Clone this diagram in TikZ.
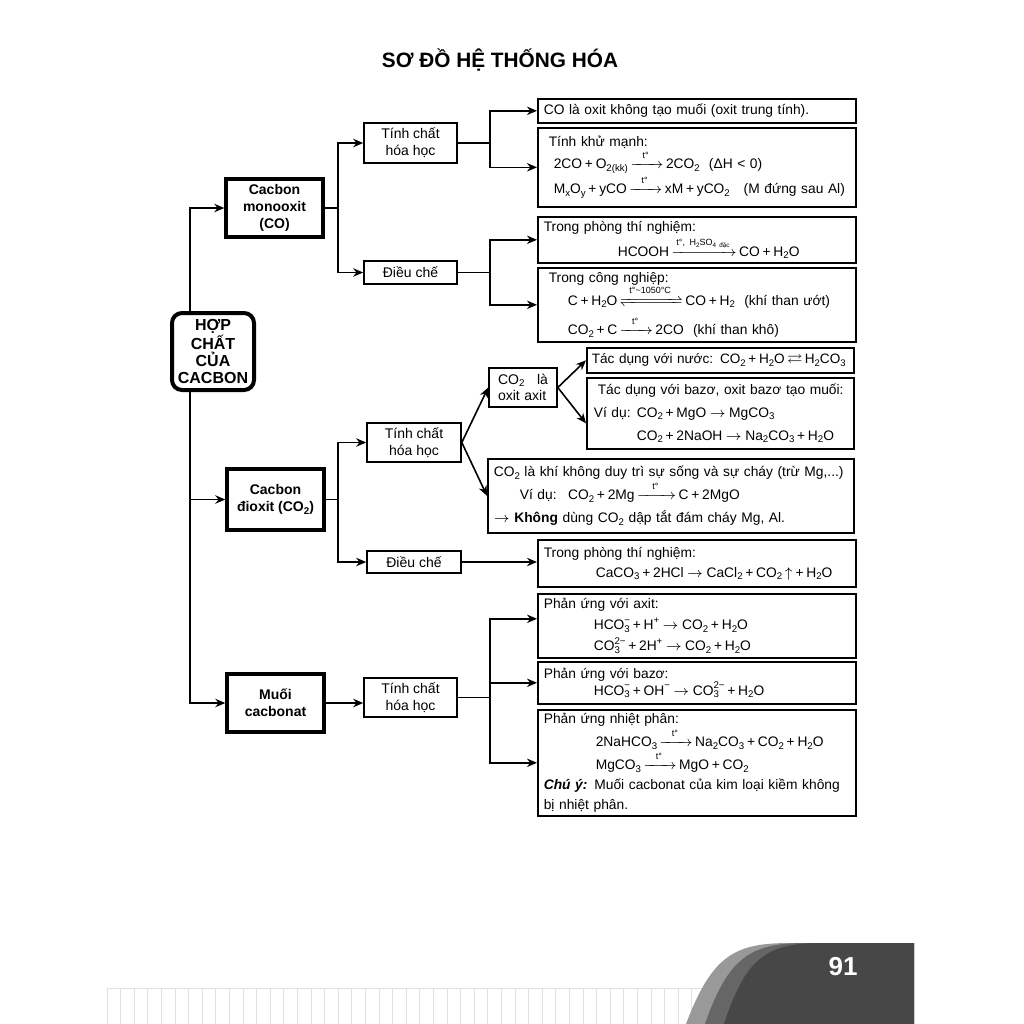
\documentclass[tikz,border=0pt]{standalone}
\usepackage{amsmath}
\usepackage{amssymb}
\usepackage{mathtools}
\usepackage{graphicx}
\usepackage{fontspec}
\setmainfont{Liberation Sans}
\usetikzlibrary{arrows.meta}

\newcommand{\sbs}[1]{\raisebox{-0.35ex}{\scalebox{0.7}{#1}}}
\newcommand{\sps}[1]{\raisebox{0.85ex}{\scalebox{0.7}{#1}}}
\newcommand{\ionst}[2]{\ooalign{\sps{#2}\cr\sbs{#1}\cr}}
\newcommand{\pls}{\hspace{0.2em}+\hspace{0.2em}}
\newcommand{\goesto}{\hspace{0.25em}\ensuremath{\rightarrow}\hspace{0.25em}}
\newcommand{\yieldto}[2][11pt]{\,\ensuremath{\xrightarrow{\makebox[#1]{\raisebox{1pt}{\fontsize{4.5}{5}\selectfont #2}}}}\,}
\newcommand{\eqlm}[2][26pt]{\,\ensuremath{\xrightleftharpoons{\makebox[#1]{\raisebox{1pt}{\fontsize{4.5}{5}\selectfont #2}}}}\,}

\tikzset{
  rootbox/.style={draw, line width=2pt, rounded corners=5pt, align=center, inner sep=0pt,
    font=\bfseries\fontsize{8}{8.4}\selectfont},
  mainbox/.style={draw, line width=1.7pt, align=center, inner sep=0pt,
    font=\bfseries\fontsize{7}{8.5}\selectfont},
  subbox/.style={draw, line width=0.8pt, align=center, inner sep=0pt,
    font=\fontsize{7}{8.4}\selectfont},
  infobox/.style={draw, line width=0.8pt, anchor=north west, align=left, inner xsep=3pt,
    inner ysep=0pt, font=\fontsize{6.9}{11.5}\selectfont},
  link/.style={line width=0.8pt, -{Stealth[length=5pt,width=4.2pt]}},
}

\begin{document}
\begin{tikzpicture}[x=0.5pt,y=-0.5pt]
\fill[white] (0,0) rectangle (1024,1024);
\useasboundingbox (0,0) rectangle (1024,1024);

% footer
\foreach \sx in {0,...,44}
  \draw[black!12, line width=0.5pt] ({107+13.6*\sx},988) -- ({107+13.6*\sx},1024);
\draw[black!12, line width=0.5pt] (107,988) -- (710,988);
\fill[black!40] (686,1024) .. controls (712,955) and (735,943) .. (790,943) -- (914,943) -- (914,1024) -- cycle;
\fill[black!60] (705,1024) .. controls (728,958) and (750,943) .. (805,943) -- (914,943) -- (914,1024) -- cycle;
\fill[black!72] (724,1024) .. controls (745,960) and (765,943) .. (820,943) -- (914,943) -- (914,1024) -- cycle;
\node[font=\bfseries\fontsize{13}{13}\selectfont, text=white] (page) at (843,967) {91};

\node[font=\bfseries\fontsize{10.4}{12}\selectfont] (title) at (500,60) {SƠ ĐỒ HỆ THỐNG HÓA};

% left column
\node[rootbox, minimum width=41pt, minimum height=38.5pt] (root) at (213,351.5) {HỢP\\CHẤT\\CỦA\\CACBON};
\node[mainbox, minimum width=48.5pt, minimum height=29pt] (co) at (274.5,208) {Cacbon\\monooxit\\(CO)};
\node[mainbox, minimum width=48.5pt, minimum height=30.5pt] (co2) at (275.5,499.5) {Cacbon\\đioxit (CO\sbs{2})};
\node[mainbox, minimum width=48.5pt, minimum height=29pt] (muoi) at (275.5,703) {Muối\\cacbonat};

% middle column
\node[subbox, minimum width=46.5pt, minimum height=20pt] (tc1) at (410.5,143) {Tính chất\\hóa học};
\node[subbox, minimum width=46.5pt, minimum height=11.5pt] (dc1) at (410.5,272.5) {Điều chế};
\node[subbox, minimum width=47pt, minimum height=19.5pt] (tc2) at (414,442.5) {Tính chất\\hóa học};
\node[subbox, minimum width=47pt, minimum height=11pt] (dc2) at (414,562) {Điều chế};
\node[subbox, minimum width=46.5pt, minimum height=19.5pt] (tc3) at (410.5,697.5) {Tính chất\\hóa học};
\node[subbox, align=left, text width=25pt, inner xsep=4.5pt, minimum height=19.5pt] (axit) at (523,387.5) {CO\sbs{2}\hfill là\\oxit axit};

% right column
\node[infobox, text width=153pt, minimum height=12pt] (b1) at (537,98) {CO là oxit không tạo muối (oxit trung tính).};
\node[infobox, text width=153pt, minimum height=39.5pt, font=\fontsize{6.9}{11}\selectfont] (b2) at (537,127) {\hspace*{2.5pt}Tính khử mạnh:\\
  \mbox{\hspace*{5pt}2CO\pls O\sbs{2(kk)}\yieldto{t°}2CO\sbs{2} \ (ΔH < 0)}\\
  \mbox{\hspace*{5pt}M\sbs{x}O\sbs{y}\pls yCO\yieldto{t°}xM\pls yCO\sbs{2} \ \ (M đứng sau Al)}};
\node[infobox, text width=153pt, minimum height=23pt, font=\fontsize{6.9}{12.5}\selectfont] (b3) at (537,216) {Trong phòng thí nghiệm:\\
  \mbox{\hspace*{37pt}HCOOH\yieldto[27pt]{t°, H\sbs{2}SO\sbs{4 đặc}}CO\pls H\sbs{2}O}};
\node[infobox, text width=153pt, minimum height=37pt] (b4) at (537,267) {\hspace*{2.5pt}Trong công nghiệp:\\
  \mbox{\hspace*{12pt}C\pls H\sbs{2}O\eqlm{t°\textasciitilde 1050°C}CO\pls H\sbs{2} \ (khí than ướt)}\\
  \mbox{\hspace*{12pt}CO\sbs{2}\pls C\yieldto{t°}2CO \ (khí than khô)}};
\node[infobox, text width=128.5pt, inner xsep=2.5pt, minimum height=12.5pt, font=\fontsize{6.8}{11}\selectfont] (b5) at (586,347) {\mbox{Tác dụng với nước: CO\sbs{2}\pls H\sbs{2}O\,\(\rightleftarrows\)\,H\sbs{2}CO\sbs{3}}};
\node[infobox, text width=128.5pt, inner xsep=2.5pt, minimum height=35.5pt] (b6) at (586,377) {\mbox{\hspace*{3pt}Tác dụng với bazơ, oxit bazơ tạo muối:}\\
  \hspace*{1pt}\makebox[21.5pt][l]{Ví dụ:}CO\sbs{2}\pls MgO\goesto MgCO\sbs{3}\\
  \mbox{\hspace*{22.5pt}CO\sbs{2}\pls 2NaOH\goesto Na\sbs{2}CO\sbs{3}\pls H\sbs{2}O}};
\node[infobox, text width=177pt, minimum height=37pt] (b7) at (487,458) {\mbox{CO\sbs{2} là khí không duy trì sự sống và sự cháy (trừ Mg,...)}\\
  \hspace*{13pt}Ví dụ: \ CO\sbs{2}\pls 2Mg\yieldto[14pt]{t°}C\pls 2MgO\\
  \ensuremath{\rightarrow} \textbf{Không} dùng CO\sbs{2} dập tắt đám cháy Mg, Al.};
\node[infobox, text width=153pt, minimum height=23.5pt, font=\fontsize{6.9}{10}\selectfont] (b8) at (537,539) {Trong phòng thí nghiệm:\\
  \mbox{\hspace*{26pt}CaCO\sbs{3}\pls 2HCl\goesto CaCl\sbs{2}\pls CO\sbs{2}\,\(\uparrow\)\pls H\sbs{2}O}};
\node[infobox, text width=153pt, minimum height=32pt, font=\fontsize{6.9}{10.5}\selectfont] (b9) at (537,593) {Phản ứng với axit:\\
  \hspace*{25pt}HCO\ionst{3}{−}\pls H\sps{+}\goesto CO\sbs{2}\pls H\sbs{2}O\\
  \hspace*{25pt}CO\ionst{3}{2−}\pls 2H\sps{+}\goesto CO\sbs{2}\pls H\sbs{2}O};
\node[infobox, text width=153pt, minimum height=21pt, font=\fontsize{6.9}{8.5}\selectfont] (b10) at (537,661) {Phản ứng với bazơ:\\
  \hspace*{25pt}HCO\ionst{3}{−}\pls OH\sps{−}\goesto CO\ionst{3}{2−}\pls H\sbs{2}O};
\node[infobox, text width=153pt, minimum height=53pt, font=\fontsize{6.9}{10}\selectfont] (b11) at (537,709) {Phản ứng nhiệt phân:\\
  \mbox{\hspace*{26pt}2NaHCO\sbs{3}\yieldto{t°}Na\sbs{2}CO\sbs{3}\pls CO\sbs{2}\pls H\sbs{2}O}\\
  \hspace*{26pt}MgCO\sbs{3}\yieldto{t°}MgO\pls CO\sbs{2}\\
  \mbox{\textbf{\textit{Chú ý:}} Muối cacbonat của kim loại kiềm không}\\
  bị nhiệt phân.};

% connectors
\draw[link] ([xshift=-11.5pt]root.north) |- (co.west);
\draw[link] ([xshift=-11.5pt]root.south) |- (co2.west);
\draw[link] ([xshift=-11.5pt]root.south) |- (muoi.west);
\draw[link] (co.east) -- ++(6.5pt,0) |- (tc1.west);
\draw[link] (co.east) -- ++(6.5pt,0) |- (dc1.west);
\draw[link] (tc1.east) -- ++(16pt,0) |- (b1.west);
\draw[link] (tc1.east) -- ++(16pt,0) |- (b2.west);
\draw[link] (dc1.east) -- ++(16pt,0) |- (b3.west);
\draw[link] (dc1.east) -- ++(16pt,0) |- (b4.west);
\draw[link] (co2.east) -- ++(6pt,0) |- (tc2.west);
\draw[link] (co2.east) -- ++(6pt,0) |- (dc2.west);
\draw[link] (tc2.east) -- (axit.west);
\draw[link] (tc2.east) -- (b7.west);
\draw[link] (axit.east) -- (b5.west);
\draw[link] (axit.east) -- ([yshift=-5pt]b6.west);
\draw[link] (dc2.east) -- (dc2.east -| b8.west);
\draw[link] (muoi.east) -- (muoi.east -| tc3.west);
\draw[link] (tc3.east) -- ++(16pt,0) |- ([yshift=3.5pt]b9.west);
\draw[link] (tc3.east) -- ++(16pt,0) |- (b10.west);
\draw[link] (tc3.east) -- ++(16pt,0) |- (b11.west);
\end{tikzpicture}
\end{document}
